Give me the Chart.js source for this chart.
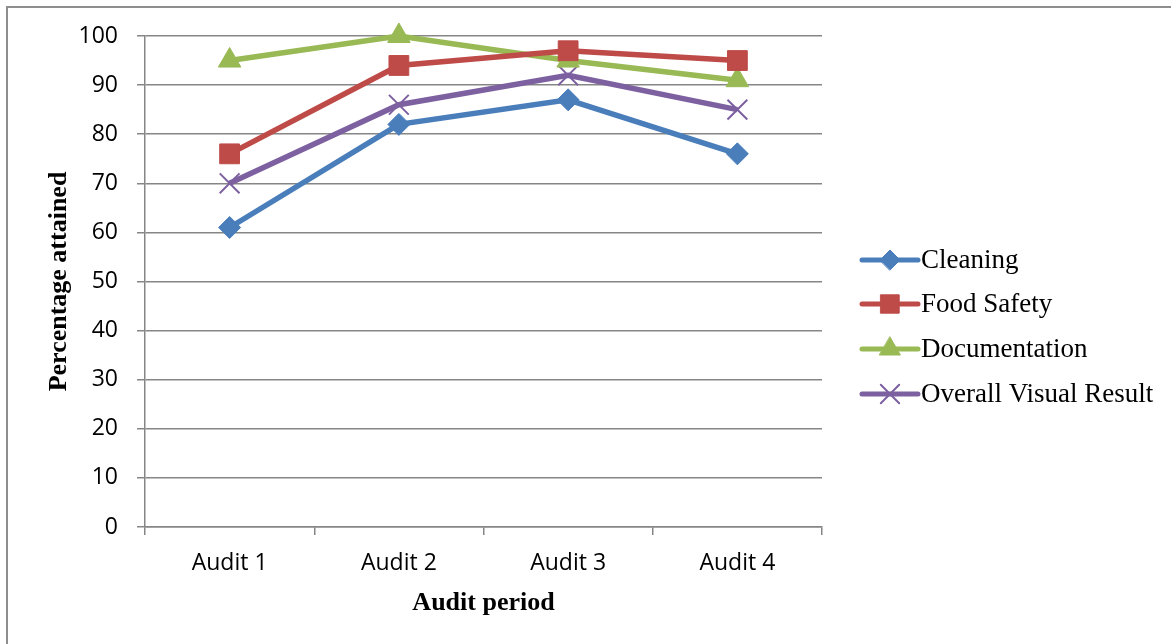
<!DOCTYPE html>
<html>
<head>
<meta charset="utf-8">
<script src="https://cdn.jsdelivr.net/npm/chart.js@4.4.1/dist/chart.umd.min.js"></script>
<style>
  html, body { margin: 0; padding: 0; background: #fff; }
  #wrap { position: relative; width: 1171px; height: 644px; }
</style>
</head>
<body>
<div id="wrap"><canvas id="audit-chart"></canvas></div>
<script>
const periods = ['Audit 1', 'Audit 2', 'Audit 3', 'Audit 4'];
const cleaning = [61, 82, 87, 76];
const foodSafety = [76, 94, 97, 95];
const documentation = [95, 100, 95, 91];
const overallVisual = [70, 86, 92, 85];
const yTicks = [0, 10, 20, 30, 40, 50, 60, 70, 80, 90, 100];

const gridColor = '#868686';

// frame line on left and top, like the original document box
const framePlugin = {
    id: 'frame',
    beforeDraw(chart) {
        const ctx = chart.ctx;
        ctx.save();
        ctx.strokeStyle = '#8e8e8e';
        ctx.lineWidth = 2;
        ctx.beginPath();
        ctx.moveTo(7, chart.height);
        ctx.lineTo(7, 7);
        ctx.lineTo(chart.width, 7);
        ctx.stroke();
        ctx.restore();
    }
};

// legend drawn as line + marker, excel style
const lineLegend = {
    id: 'lineLegend',
    afterDraw(chart) {
        const ctx = chart.ctx;
        const x0 = 862, x1 = 918;
        const rows = [260, 304, 349, 394];
        ctx.save();
        chart.data.datasets.forEach(function(ds, i) {
            const y = rows[i];
            ctx.strokeStyle = ds.borderColor;
            ctx.lineWidth = 5;
            ctx.lineCap = 'round';
            ctx.beginPath();
            ctx.moveTo(x0, y);
            ctx.lineTo(x1, y);
            ctx.stroke();
            ctx.fillStyle = ds.pointBackgroundColor;
            ctx.strokeStyle = ds.pointBorderColor;
            ctx.lineWidth = ds.pointBorderWidth;
            Chart.helpers.drawPoint(ctx, {
                pointStyle: ds.pointStyle,
                radius: ds.pointRadius - 1,
                borderWidth: ds.pointBorderWidth,
                rotation: 0
            }, (x0 + x1) / 2, y);
            ctx.fillStyle = '#000';
            ctx.font = '27px "Liberation Serif", "Times New Roman", serif';
            ctx.textBaseline = 'middle';
            ctx.textAlign = 'left';
            ctx.fillText(ds.label, 921, y + 1);
        });
        ctx.restore();
    }
};

function series(label, data, color, style, radius, bw) {
    return {
        label: label,
        data: data,
        clip: false,
        borderColor: color,
        backgroundColor: color,
        borderWidth: 5.5,
        pointStyle: style,
        pointRadius: radius,
        pointHoverRadius: radius,
        pointBackgroundColor: color,
        pointBorderColor: color,
        pointBorderWidth: bw,
        tension: 0
    };
}

const ctx = document.getElementById('audit-chart').getContext('2d');
new Chart(ctx, {
    type: 'line',
    data: {
        labels: periods,
        datasets: [
            series('Cleaning', cleaning, '#4a7ebb', 'rectRot', 11, 1),
            series('Food Safety', foodSafety, '#be4b48', 'rect', 14, 1),
            series('Documentation', documentation, '#98b954', 'triangle', 13, 1),
            series('Overall Visual Result', overallVisual, '#7d60a0', 'crossRot', 14, 2)
        ]
    },
    options: {
        responsive: true,
        maintainAspectRatio: false,
        animation: false,
        layout: {
            padding: { left: 0, right: 349, top: 36, bottom: 0 }
        },
        plugins: {
            legend: { display: false },
            tooltip: { enabled: false }
        },
        scales: {
            x: {
                offset: true,
                grid: {
                    drawOnChartArea: false,
                    offset: true,
                    color: gridColor,
                    lineWidth: 1.5,
                    tickLength: 8
                },
                border: { color: gridColor, width: 1.5 },
                ticks: {
                    color: '#000',
                    padding: 15,
                    font: { family: '"Open Sans", sans-serif', size: 23 }
                },
                title: {
                    display: true,
                    text: 'Audit period',
                    color: '#000',
                    padding: { top: 0, bottom: 25 },
                    font: { family: '"Liberation Serif", "Times New Roman", serif', size: 26, weight: 'bold' }
                },
                afterFit(scale) { scale.height = 117; }
            },
            y: {
                min: 0,
                max: 100,
                afterBuildTicks(scale) {
                    scale.ticks = yTicks.map(v => ({ value: v }));
                },
                grid: {
                    color: gridColor,
                    lineWidth: 1.5,
                    tickLength: 8
                },
                border: { color: gridColor, width: 1.5 },
                ticks: {
                    color: '#000',
                    padding: 19,
                    font: { family: '"Open Sans", sans-serif', size: 23 }
                },
                title: {
                    display: true,
                    text: 'Percentage attained',
                    color: '#000',
                    padding: { top: 44, bottom: 0 },
                    font: { family: '"Liberation Serif", "Times New Roman", serif', size: 26, weight: 'bold' }
                },
                afterFit(scale) { scale.width = 145; }
            }
        }
    },
    plugins: [framePlugin, lineLegend]
});
</script>
</body>
</html>
